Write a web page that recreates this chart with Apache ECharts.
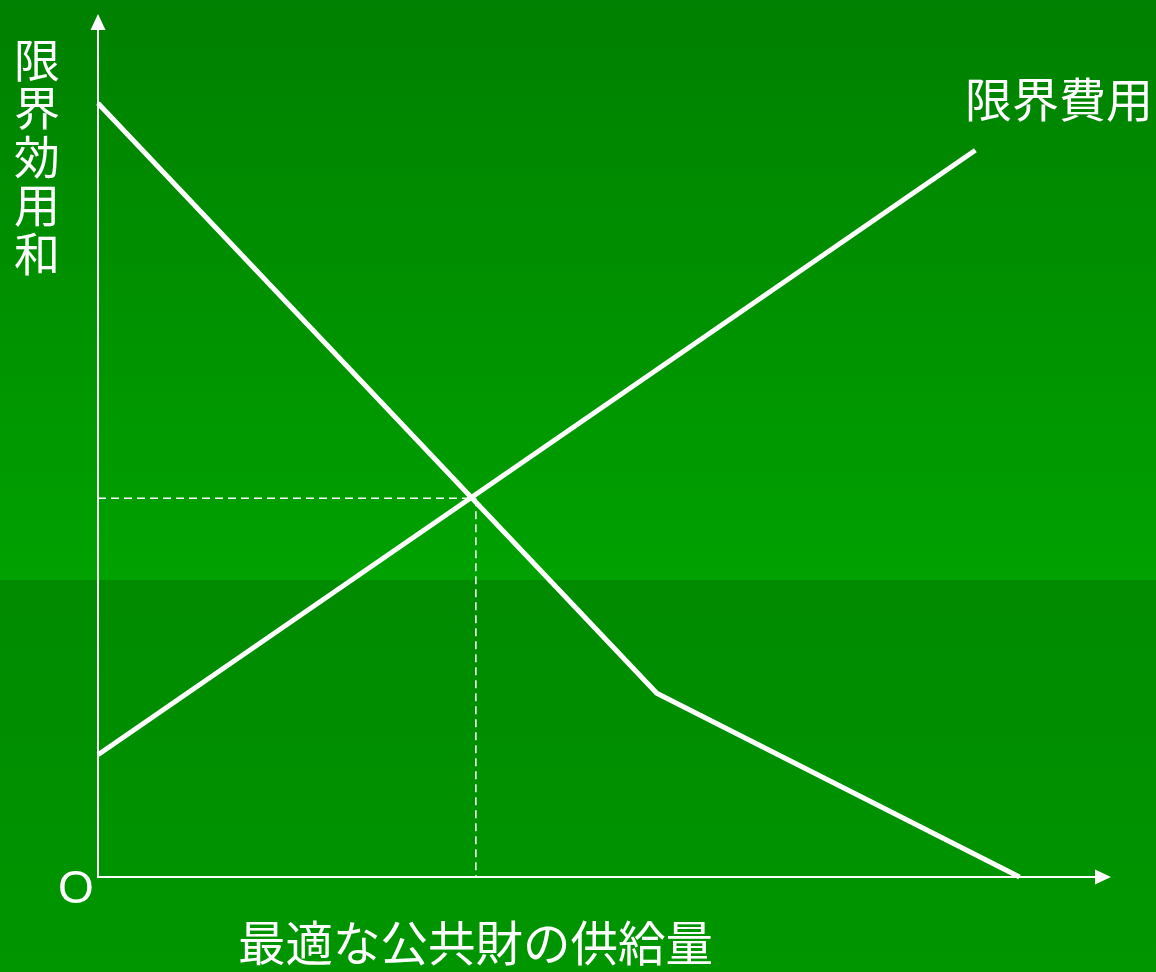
<!DOCTYPE html>
<html><head><meta charset="utf-8">
<script src="https://cdn.jsdelivr.net/npm/echarts@6/dist/echarts.min.js"></script>
<style>html,body{margin:0;padding:0;}#c{width:1156px;height:972px;}</style>
</head><body><div id="c"></div>
<script>
// Data (in chart units: x 0..100, y 0..100)
const muCurveX = [0, 55.6, 91.7];
const muCurveY = [90.5, 21.5, 0];
const mcCurveX = [0, 87.3];
const mcCurveY = [14.3, 85.0];
const optimumX = 37.1;
const optimumY = 44.3;
const yAxisTitle = ['限','界','効','用','和'];
const xAxisTitle = '最適な公共財の供給量';
const mcLabel = '限界費用';
const originLabel = 'O';

const toPairs = (xs, ys) => xs.map((x, i) => [x, ys[i]]);
const font = '"Noto Sans CJK JP", "Noto Sans", sans-serif';
const chart = echarts.init(document.getElementById('c'));
chart.setOption({
  animation: false,
  graphic: [
    {type:'rect', z:-10, silent:true, shape:{x:0,y:0,width:1156,height:580},
     style:{fill:new echarts.graphic.LinearGradient(0,0,0,1,[{offset:0,color:'rgb(0,128,0)'},{offset:1,color:'rgb(0,161,0)'}])}},
    {type:'rect', z:-10, silent:true, shape:{x:0,y:580,width:1156,height:392},
     style:{fill:new echarts.graphic.LinearGradient(0,0,0,1,[{offset:0,color:'rgb(0,138,0)'},{offset:1,color:'rgb(0,150,0)'}])}},
    {type:'text', left:14, top:35, style:{text:yAxisTitle.join('\n'), fill:'#fff', font:'46px '+font, lineHeight:48.5}},
    {type:'text', left:965, top:76, style:{text:mcLabel, fill:'#fff', font:'47px '+font}},
    {type:'text', left:238, top:919, style:{text:xAxisTitle, fill:'#fff', font:'47.5px '+font}},
    {type:'text', left:58, top:867, style:{text:originLabel, fill:'#fff', font:'46px "Liberation Sans", Arial, sans-serif'}}
  ],
  grid: {left:98, right:53, top:22, bottom:95, containLabel:false},
  xAxis: {type:'value', min:0, max:100, splitLine:{show:false}, axisTick:{show:false}, axisLabel:{show:false},
    axisLine:{lineStyle:{color:'#fff', width:2}, symbol:['none','triangle'], symbolSize:[15,16]}},
  yAxis: {type:'value', min:0, max:100, splitLine:{show:false}, axisTick:{show:false}, axisLabel:{show:false},
    axisLine:{lineStyle:{color:'#fff', width:2}, symbol:['none','triangle'], symbolSize:[15,16]}},
  series: [
    {type:'line', data: toPairs(muCurveX, muCurveY), symbol:'none', lineStyle:{color:'#fff', width:5}},
    {type:'line', data: toPairs(mcCurveX, mcCurveY), symbol:'none', lineStyle:{color:'#fff', width:5}},
    {type:'line', data: [[0, optimumY],[optimumX, optimumY]], symbol:'none', lineStyle:{color:'#fff', width:1.5, type:[8,5]}},
    {type:'line', data: [[optimumX+0.5, optimumY],[optimumX+0.5, 0]], symbol:'none', lineStyle:{color:'#fff', width:1.5, type:[8,5]}}
  ]
});
</script></body></html>
